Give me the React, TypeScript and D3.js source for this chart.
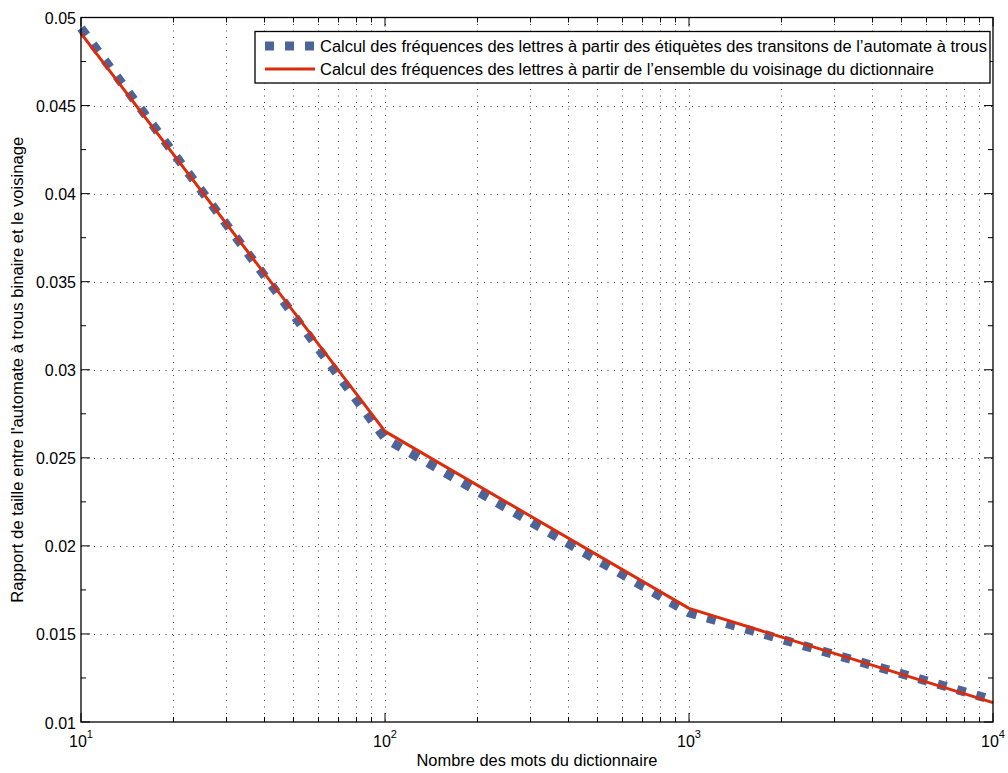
import React from "react";
import * as d3 from "d3";

// ---- Data ----
const nWords = [10, 100, 1000, 10000];
const ratioTransitions = [0.0494, 0.0261, 0.0162, 0.01125];
const ratioNeighbourhood = [0.0491, 0.0265, 0.01645, 0.0111];

const seriesNames = [
  "Calcul des fréquences des lettres à partir des étiquètes des transitons de l’automate à trous",
  "Calcul des fréquences des lettres à partir de l’ensemble du voisinage du dictionnaire",
];

const xMajorTicks = [10, 100, 1000, 10000];
const xMajorExponents = ["1", "2", "3", "4"];
const xMinorTicks = [20, 30, 40, 50, 60, 70, 80, 90, 200, 300, 400, 500, 600, 700, 800, 900, 2000, 3000, 4000, 5000, 6000, 7000, 8000, 9000];
const yMajorTicks = [0.01, 0.015, 0.02, 0.025, 0.03, 0.035, 0.04, 0.045, 0.05];
const yTickLabels = ["0.01", "0.015", "0.02", "0.025", "0.03", "0.035", "0.04", "0.045", "0.05"];
const yMinorTicks = [0.0125, 0.0175, 0.0225, 0.0275, 0.0325, 0.0375, 0.0425, 0.0475];

const xLabel = "Nombre des mots du dictionnaire";
const yLabel = "Rapport de taille entre l'automate à trous binaire et le voisinage";

// ---- Layout ----
const W = 1008;
const H = 773;
const L = 81;
const R = 993;
const T = 17.5;
const B = 722;

const BLUE = "#4c6497";
const RED = "#dc2c0b";
const FONT = "'Liberation Sans', Arial, Helvetica, sans-serif";

export default function App() {
  const x = d3.scaleLog().domain([10, 10000]).range([L, R]);
  const y = d3.scaleLinear().domain([0.01, 0.05]).range([B, T]);

  const line = d3
    .line<[number, number]>()
    .x((d) => x(d[0]))
    .y((d) => y(d[1]));

  const blueData = nWords.map((n, i) => [n, ratioTransitions[i]] as [number, number]);
  const redData = nWords.map((n, i) => [n, ratioNeighbourhood[i]] as [number, number]);

  const gridX = [...xMinorTicks, 100, 1000];
  const gridY = yMajorTicks.filter((v) => v > 0.01 && v < 0.05);

  const legX = 255;
  const legY = 31.5;
  const legW = 735;
  const legH = 51.5;

  return (
    <svg
      width={W}
      height={H}
      style={{ position: "absolute", left: 0, top: 0, background: "#fff" }}
      fontFamily={FONT}
    >
      <rect x={0} y={0} width={W} height={H} fill="#fff" />
      {/* grid */}
      <g stroke="#444" strokeWidth={1} strokeDasharray="1 5.5" fill="none">
        {gridX.map((v) => (
          <line key={"gx" + v} x1={Math.round(x(v)) + 0.5} x2={Math.round(x(v)) + 0.5} y1={T} y2={B} />
        ))}
        {gridY.map((v) => (
          <line key={"gy" + v} x1={L} x2={R} y1={Math.round(y(v)) + 0.5} y2={Math.round(y(v)) + 0.5} />
        ))}
      </g>

      {/* ticks */}
      <g stroke="#000" strokeWidth={1}>
        {xMajorTicks.map((v) => (
          <g key={"xt" + v}>
            <line x1={x(v)} x2={x(v)} y1={B} y2={B - 9} />
            <line x1={x(v)} x2={x(v)} y1={T} y2={T + 9} />
          </g>
        ))}
        {xMinorTicks.map((v) => (
          <g key={"xm" + v}>
            <line x1={Math.round(x(v)) + 0.5} x2={Math.round(x(v)) + 0.5} y1={B} y2={B - 5} />
            <line x1={Math.round(x(v)) + 0.5} x2={Math.round(x(v)) + 0.5} y1={T} y2={T + 5} />
          </g>
        ))}
        {yMajorTicks.map((v) => (
          <g key={"yt" + v}>
            <line x1={L} x2={L + 9} y1={y(v)} y2={y(v)} />
            <line x1={R} x2={R - 9} y1={y(v)} y2={y(v)} />
          </g>
        ))}
        {yMinorTicks.map((v) => (
          <g key={"ym" + v}>
            <line x1={L} x2={L + 5} y1={y(v)} y2={y(v)} />
            <line x1={R} x2={R - 5} y1={y(v)} y2={y(v)} />
          </g>
        ))}
      </g>

      {/* series */}
      <path
        d={line(blueData) || ""}
        fill="none"
        stroke={BLUE}
        strokeWidth={9}
        strokeDasharray="9 11"
      />
      <path d={line(redData) || ""} fill="none" stroke={RED} strokeWidth={3} strokeLinejoin="round" />

      {/* frame */}
      <rect x={L} y={T} width={R - L} height={B - T} fill="none" stroke="#000" strokeWidth={1.3} />

      {/* y tick labels */}
      <g fontSize={16} textAnchor="end" fill="#000">
        {yMajorTicks.map((v, i) => (
          <text key={"yl" + v} x={76} y={y(v) + 6.5}>
            {yTickLabels[i]}
          </text>
        ))}
      </g>

      {/* x tick labels */}
      <g fontSize={16} textAnchor="middle" fill="#000">
        {xMajorTicks.map((v, i) => (
          <text key={"xl" + v} x={x(v)} y={747}>
            <tspan>10</tspan>
            <tspan dy={-9} fontSize={11}>
              {xMajorExponents[i]}
            </tspan>
          </text>
        ))}
      </g>

      {/* axis labels */}
      <text
        x={(L + R) / 2}
        y={766}
        fontSize={16}
        textAnchor="middle"
        textLength={241}
        lengthAdjust="spacingAndGlyphs"
      >
        {xLabel}
      </text>
      <text
        transform={`translate(23, ${(T + B) / 2}) rotate(-90)`}
        fontSize={16}
        textAnchor="middle"
        textLength={466}
        lengthAdjust="spacingAndGlyphs"
      >
        {yLabel}
      </text>

      {/* legend */}
      <rect x={legX} y={legY} width={legW} height={legH} fill="#fff" stroke="#000" strokeWidth={1.3} />
      <line x1={265} x2={314} y1={46} y2={46} stroke={BLUE} strokeWidth={9} strokeDasharray="9 11" />
      <line x1={265} x2={315} y1={69} y2={69} stroke={RED} strokeWidth={3} />
      <text x={320} y={51.5} fontSize={16} textLength={667} lengthAdjust="spacingAndGlyphs">
        {seriesNames[0]}
      </text>
      <text x={320} y={74.5} fontSize={16} textLength={614} lengthAdjust="spacingAndGlyphs">
        {seriesNames[1]}
      </text>
    </svg>
  );
}
